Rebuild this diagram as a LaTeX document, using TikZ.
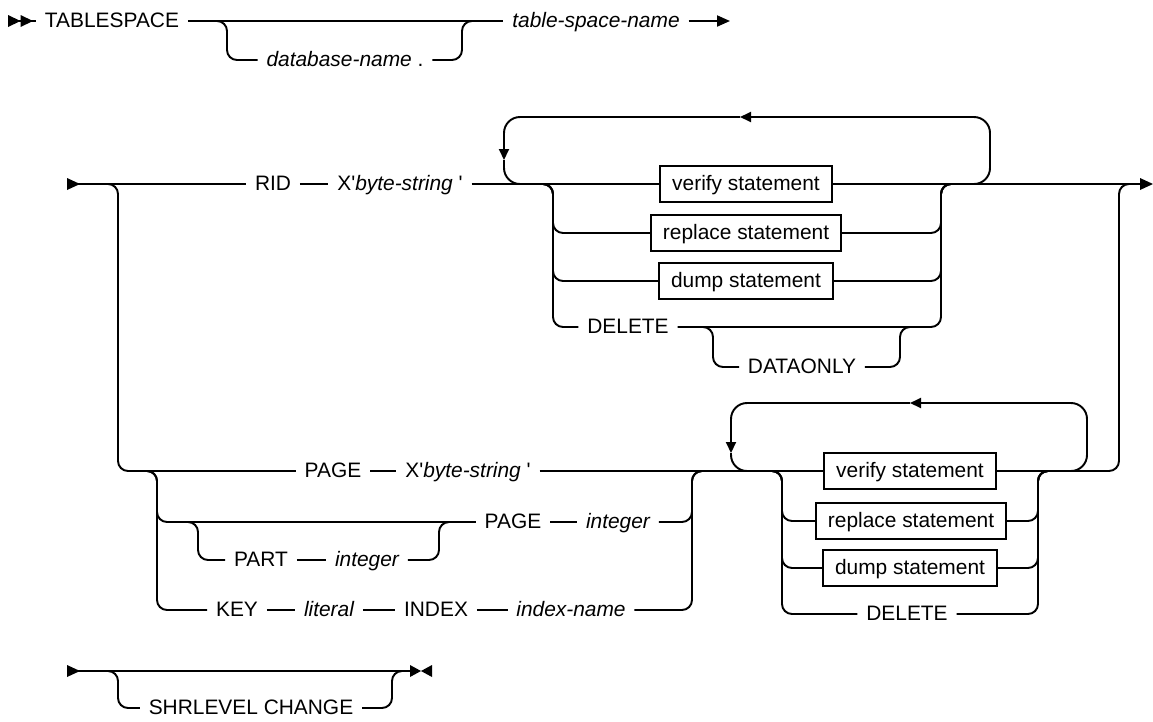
\documentclass[tikz,border=0pt]{standalone}
\usepackage{fontspec}
\setmainfont{Liberation Sans}
\usetikzlibrary{arrows.meta}

\begin{document}
\begin{tikzpicture}[
    x=0.02cm, y=-0.02cm,
    kw/.style={font=\fontsize{11.9}{14}\selectfont, inner xsep=0.17cm, inner ysep=0pt, text height=0.3cm, text depth=0.06cm},
    var/.style={kw, font=\fontsize{11.9}{14}\selectfont\itshape},
    stmt/.style={kw, draw, line width=1.1pt, minimum height=0.72cm, inner xsep=0.24cm},
    rail/.style={line width=1.1pt, rounded corners=0.2cm},
    loopline/.style={line width=1.1pt, rounded corners=0.32cm},
    tip/.style={-{Triangle[length=0.22cm, width=0.2cm]}}
]
\useasboundingbox (0,0) rectangle (1153,721);

% Row 1
\coordinate (beg1) at (8,21);
\coordinate (dbL) at (227,21);
\coordinate (dbR) at (462,21);
\coordinate (end1) at (730,21);
\node[kw] (tblsp) at (112,21) {TABLESPACE};
\node[var] (dbname) at (345,60) {database-name\/ \upshape.};
\node[var] (tsname) at (596,21) {table-space-name};

\fill ([shift={(0,-6)}]beg1) -- ++(12.5,6) -- ++(-12.5,6) -- cycle;
\fill ([shift={(12.5,-6)}]beg1) -- ++(12.5,6) -- ++(-12.5,6) -- cycle;
\draw[rail] (beg1) -- (tblsp.west);
\draw[rail] (tblsp.east) -- (tsname.west);
\draw[rail] ([shift={(-20,0)}]dbL) -| (dbL |- dbname.west) -- (dbname.west);
\draw[rail] (dbname.east) -| (dbR) -- ++(20,0);
\draw[rail, -{Triangle[length=0.26cm, width=0.22cm]}] (tsname.east) -- (end1);

% Row 2
\coordinate (beg2) at (67,184);
\coordinate (pgL) at (118,184);
\coordinate (lp1L) at (504,184);
\coordinate (lp1R) at (990,184);
\coordinate (lp1T) at (740,117);
\coordinate (br1L) at (553,184);
\coordinate (br1R) at (941,184);
\coordinate (doL) at (713,327);
\coordinate (doR) at (900,327);
\coordinate (bigR) at (1119,184);
\coordinate (end2) at (1153,184);
\node[kw] (rid) at (273,184) {RID};
\node[kw] (xrid) at (400,184) {X\textquotesingle\textit{byte-string} \textquotesingle};
\node[stmt] (ver1) at (746,184) {verify statement};
\node[stmt] (rep1) at (746,233) {replace statement};
\node[stmt] (dmp1) at (746,281) {dump statement};
\node[kw] (del1) at (628,327) {DELETE};
\node[kw] (donly) at (802,367) {DATAONLY};

\fill ([shift={(0,-6)}]beg2) -- ++(13,6) -- ++(-13,6) -- cycle;
\draw[rail] (beg2) -- (rid.west);
\draw[rail] (rid.east) -- (xrid.west);
\draw[rail] (xrid.east) -- (ver1.west);
\draw[rail] (ver1.east) -- ([shift={(-13,0)}]end2);
\fill ([shift={(-13,-6)}]end2) -- ++(13,6) -- ++(-13,6) -- cycle;

% repeat loop
\draw[loopline, tip] ([shift={(-20,0)}]lp1R) -| (lp1R |- lp1T) -- (lp1T);
\draw[loopline, tip] (lp1T) -| ([shift={(0,-24)}]lp1L);
\draw[loopline] ([shift={(0,-24)}]lp1L) |- ([shift={(20,0)}]lp1L);

% choices
\draw[rail] ([shift={(-20,0)}]br1L) -| (br1L |- rep1.west) -- (rep1.west);
\draw[rail] (rep1.east) -| (br1R) -- ++(20,0);
\draw[rail] ([shift={(-20,0)}]br1L) -| (br1L |- dmp1.west) -- (dmp1.west);
\draw[rail] (dmp1.east) -| (br1R) -- ++(20,0);
\draw[rail] ([shift={(-20,0)}]br1L) -| (br1L |- del1.west) -- (del1.west);
\draw[rail] (del1.east) -| (br1R) -- ++(20,0);
\draw[rail] ([shift={(-20,0)}]doL) -| (doL |- donly.west) -- (donly.west);
\draw[rail] (donly.east) -| (doR) -- ++(20,0);

% Row 3
\coordinate (subL) at (157,471);
\coordinate (partL) at (198,522);
\coordinate (partR) at (439,522);
\coordinate (subR) at (692,471);
\coordinate (lp2L) at (731,471);
\coordinate (lp2R) at (1087,471);
\coordinate (lp2T) at (910,403);
\coordinate (br2L) at (782,471);
\coordinate (br2R) at (1038,471);
\node[kw] (page1) at (333,471) {PAGE};
\node[kw] (xpage) at (468,471) {X\textquotesingle\textit{byte-string} \textquotesingle};
\node[kw] (page2) at (513,522) {PAGE};
\node[var] (int1) at (618,522) {integer};
\node[kw] (part) at (261,560) {PART};
\node[var] (int2) at (367,560) {integer};
\node[kw] (key) at (237,610) {KEY};
\node[var] (lit) at (329,610) {literal};
\node[kw] (idx) at (436,610) {INDEX};
\node[var] (idxn) at (571,610) {index-name};
\node[stmt] (ver2) at (910,471) {verify statement};
\node[stmt] (rep2) at (911,521) {replace statement};
\node[stmt] (dmp2) at (910,568) {dump statement};
\node[kw] (del2) at (907,614) {DELETE};

\draw[rail] ([shift={(-20,0)}]pgL) -| (pgL |- page1.west) -- (page1.west);
\draw[rail] (page1.east) -- (xpage.west);
\draw[rail] (xpage.east) -- (ver2.west);
\draw[rail] (ver2.east) -| (bigR) -- ++(20,0);

\draw[rail] ([shift={(-20,0)}]subL) -| (subL |- page2.west) -- (page2.west);
\draw[rail] (page2.east) -- (int1.west);
\draw[rail] (int1.east) -| (subR) -- ++(20,0);
\draw[rail] ([shift={(-20,0)}]partL) -| (partL |- part.west) -- (part.west);
\draw[rail] (part.east) -- (int2.west);
\draw[rail] (int2.east) -| (partR) -- ++(20,0);
\draw[rail] ([shift={(-20,0)}]subL) -| (subL |- key.west) -- (key.west);
\draw[rail] (key.east) -- (lit.west);
\draw[rail] (lit.east) -- (idx.west);
\draw[rail] (idx.east) -- (idxn.west);
\draw[rail] (idxn.east) -| (subR) -- ++(20,0);

% repeat loop
\draw[loopline, tip] ([shift={(-20,0)}]lp2R) -| (lp2R |- lp2T) -- (lp2T);
\draw[loopline, tip] (lp2T) -| ([shift={(0,-18)}]lp2L);
\draw[loopline] ([shift={(0,-18)}]lp2L) |- ([shift={(20,0)}]lp2L);

% choices
\draw[rail] ([shift={(-20,0)}]br2L) -| (br2L |- rep2.west) -- (rep2.west);
\draw[rail] (rep2.east) -| (br2R) -- ++(20,0);
\draw[rail] ([shift={(-20,0)}]br2L) -| (br2L |- dmp2.west) -- (dmp2.west);
\draw[rail] (dmp2.east) -| (br2R) -- ++(20,0);
\draw[rail] ([shift={(-20,0)}]br2L) -| (br2L |- del2.west) -- (del2.west);
\draw[rail] (del2.east) -| (br2R) -- ++(20,0);

% Row 4
\coordinate (beg4) at (67,671);
\coordinate (shrL) at (118,671);
\coordinate (shrR) at (392,671);
\coordinate (end4) at (410,671);
\node[kw] (shr) at (251,708) {SHRLEVEL CHANGE};

\fill ([shift={(0,-6)}]beg4) -- ++(13,6) -- ++(-13,6) -- cycle;
\draw[rail] (beg4) -- (end4);
\draw[rail] ([shift={(-20,0)}]shrL) -| (shrL |- shr.west) -- (shr.west);
\draw[rail] (shr.east) -| (shrR) -- (end4);
\fill ([shift={(0,-6)}]end4) -- ++(11,6) -- ++(-11,6) -- cycle;
\fill ([shift={(22,-6)}]end4) -- ++(-11,6) -- ++(11,6) -- cycle;

\end{tikzpicture}
\end{document}
